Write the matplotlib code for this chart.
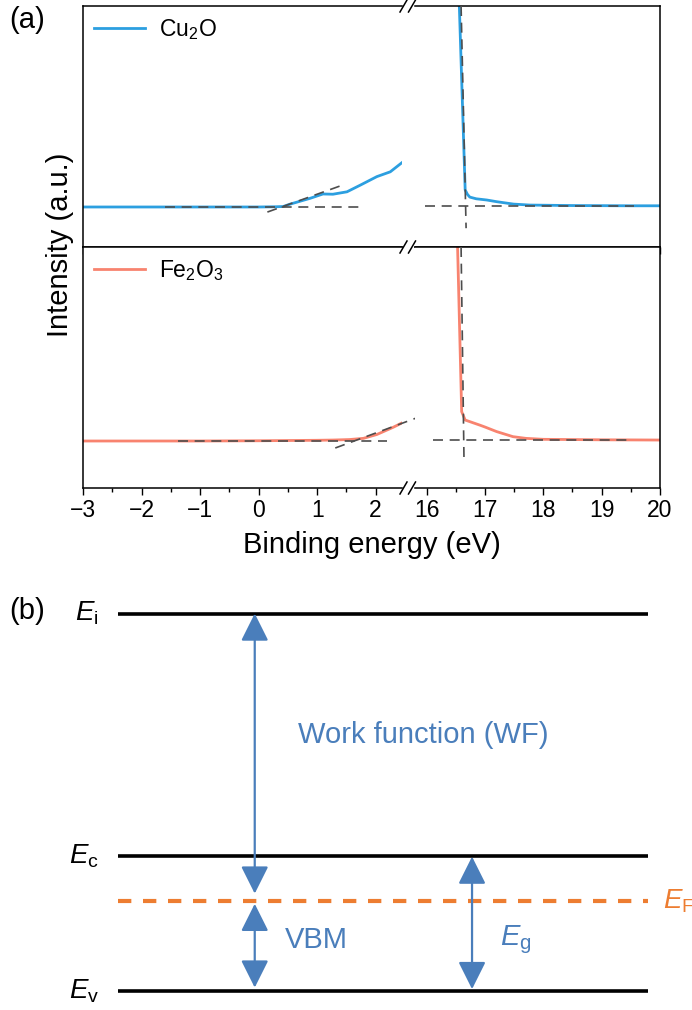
import numpy as np
import matplotlib.pyplot as plt
from matplotlib.lines import Line2D
from matplotlib.ticker import MultipleLocator

plt.rcParams['font.family'] = ['Liberation Sans', 'DejaVu Sans']
plt.rcParams['mathtext.fontset'] = 'custom'
plt.rcParams['mathtext.rm'] = 'Liberation Sans'
plt.rcParams['mathtext.it'] = 'Liberation Sans:italic'

# ---- panel (a) data: UPS spectra, left part (valence band) and right part (cutoff)
cu_lo_x = [-3, -2, -1, 0, 0.3, 0.42, 0.54, 0.88, 1.1, 1.27, 1.51, 1.74, 2.02, 2.25, 2.47]
cu_lo_y = [1.66, 1.66, 1.66, 1.66, 1.67, 1.68, 1.78, 2.02, 2.2, 2.19, 2.29, 2.57, 2.92, 3.12, 3.54]
cu_hi_x = [16.54, 16.56, 16.60, 16.64, 16.66, 16.70, 16.74, 16.85, 17.03, 17.2, 17.49, 17.77, 18.5, 19.5, 20]
cu_hi_y = [12.5, 10.0, 6.95, 3.9, 2.37, 2.18, 2.07, 2.0, 1.95, 1.88, 1.78, 1.74, 1.72, 1.71, 1.71]

fe_lo_x = [-3, -1, 0, 1.0, 1.27, 1.55, 1.79, 2.02, 2.30, 2.49]
fe_lo_y = [1.95, 1.95, 1.96, 1.98, 1.99, 2.01, 2.06, 2.22, 2.52, 2.75]
fe_hi_x = [16.52, 16.53, 16.57, 16.60, 16.66, 16.91, 17.0, 17.2, 17.48, 17.7, 18.0, 19.0, 20]
fe_hi_y = [12.5, 10.0, 6.1, 3.17, 2.82, 2.61, 2.53, 2.34, 2.13, 2.06, 2.02, 2.0, 1.99]

# fit lines (baseline / tangent) as segments: (x0, x1, y0, y1)
cu_lo_fits = [(-1.6, 1.8, 1.66, 1.66), (0.15, 1.39, 1.45, 2.53)]
cu_hi_fits = [(15.97, 19.55, 1.70, 1.70), (16.59, 16.676, 10.0, 0.78)]
fe_lo_fits = [(-1.38, 2.2, 1.95, 1.95), (1.31, 2.79, 1.66, 2.99)]
fe_hi_fits = [(16.1, 19.5, 1.99, 1.99), (16.59, 16.64, 10.0, 1.16)]

lo_lim = (-3, 2.45)
hi_lim = (15.8, 20)
lo_ticks = [-3, -2, -1, 0, 1, 2]
hi_ticks = [16, 17, 18, 19, 20]

cu_color = '#2C9FE0'
fe_color = '#F8836F'
fit_color = '#4D4D4D'

# ---- panel (b) data: energy levels
level_vals = [10.0, 3.58, 2.38, 0.0]
level_names = [r'$E_\mathrm{i}$', r'$E_\mathrm{c}$', r'$E_\mathrm{F}$', r'$E_\mathrm{v}$']
arrow_x = [0.258, 0.258, 0.668]
arrow_y0 = [10.0, 2.31, 3.56]
arrow_y1 = [2.58, 0.09, 0.05]
blue = '#4A7EBB'
orange = '#ED7D31'

W, H = 692, 1010
fig = plt.figure(figsize=(W / 100, H / 100), dpi=100)


def fx(px):
    return px / W


def fy(py):
    return 1 - py / H


rows = [(6, 247), (247, 488)]
xl0, xl1, xr0, xr1 = 83, 402, 415, 660
axes = []
for top, bot in rows:
    a_lo = fig.add_axes([fx(xl0), fy(bot), fx(xl1 - xl0), (bot - top) / H])
    a_hi = fig.add_axes([fx(xr0), fy(bot), fx(xr1 - xr0), (bot - top) / H])
    axes.append((a_lo, a_hi))

series = [
    (cu_lo_x, cu_lo_y, cu_hi_x, cu_hi_y, cu_lo_fits, cu_hi_fits, cu_color, r'Cu$_2$O'),
    (fe_lo_x, fe_lo_y, fe_hi_x, fe_hi_y, fe_lo_fits, fe_hi_fits, fe_color, r'Fe$_2$O$_3$'),
]

for i, ((a_lo, a_hi), s) in enumerate(zip(axes, series)):
    lx, ly, hx, hy, lf, hf, col, lab = s
    a_lo.plot(lx, ly, color=col, lw=2.0, label=lab, zorder=2)
    a_hi.plot(hx, hy, color=col, lw=2.0, zorder=2)
    for x0, x1, y0, y1 in lf:
        a_lo.plot([x0, x1], [y0, y1], color=fit_color, lw=1.2, ls=(0, (6, 4)),
                  zorder=3, clip_on=False)
    for x0, x1, y0, y1 in hf:
        a_hi.plot([x0, x1], [y0, y1], color=fit_color, lw=1.2, ls=(0, (6, 4)), zorder=3)
    a_lo.set_xlim(*lo_lim)
    a_hi.set_xlim(*hi_lim)
    for a in (a_lo, a_hi):
        a.set_ylim(0, 10)
        a.set_yticks([])
        a.xaxis.set_minor_locator(MultipleLocator(0.5))
        a.tick_params(axis='x', which='major', direction='out', length=5, width=1,
                      labelsize=16.5, pad=3)
        a.tick_params(axis='x', which='minor', direction='out', length=3, width=1)
        for sp in a.spines.values():
            sp.set_linewidth(1.1)
    a_lo.set_xticks(lo_ticks)
    a_hi.set_xticks(hi_ticks)
    a_lo.spines['right'].set_visible(False)
    a_hi.spines['left'].set_visible(False)
    if i == 0:
        a_lo.tick_params(labelbottom=False)
        a_hi.tick_params(labelbottom=False)
    a_lo.legend(loc='upper left', frameon=False, fontsize=16.5, handlelength=2.2,
                handletextpad=0.6, borderaxespad=0.2, borderpad=0.3)

# break marks
for yy in (6, 247, 488):
    for xc in (403.5, 412):
        fig.add_artist(Line2D([fx(xc - 3.5), fx(xc + 3.5)], [fy(yy + 6), fy(yy - 6)],
                              color='black', lw=1.1, transform=fig.transFigure))

fig.text(fx(371.5), fy(545), 'Binding energy (eV)', ha='center', va='center', fontsize=21)
fig.text(fx(60), fy(245), 'Intensity (a.u.)', ha='center', va='center', rotation=90,
         fontsize=21)
fig.text(fx(9), fy(20), '(a)', ha='left', va='center', fontsize=21)
fig.text(fx(9), fy(611), '(b)', ha='left', va='center', fontsize=21)

# ---- panel (b)
ev_px, ei_px = 991, 613.5
axb = fig.add_axes([fx(118), fy(ev_px), fx(648 - 118), (ev_px - ei_px) / H])
axb.set_xlim(0, 1)
axb.set_ylim(0, 10)
axb.axis('off')
for v, name in zip(level_vals, level_names):
    if 'F' in name:
        axb.plot([0, 1], [v, v], color=orange, lw=3, ls=(0, (3.2, 2.8)), clip_on=False)
        axb.text(1.028, v, name, color=orange, ha='left', va='center', fontsize=20,
                 clip_on=False)
    else:
        axb.plot([0, 1], [v, v], color='black', lw=2.6, clip_on=False,
                 solid_capstyle='butt')
        axb.text(-0.036, v, name, color='black', ha='right', va='center', fontsize=20)

for x, y0, y1 in zip(arrow_x, arrow_y0, arrow_y1):
    axb.annotate('', xy=(x, y1), xytext=(x, y0),
                 arrowprops=dict(arrowstyle='<|-|>,head_length=17,head_width=8.5',
                                 mutation_scale=1, color=blue, lw=1.6,
                                 shrinkA=0, shrinkB=0))

axb.text(0.575, 6.78, 'Work function (WF)', color=blue, ha='center', va='center',
         fontsize=21)
axb.text(0.315, 1.35, 'VBM', color=blue, ha='left', va='center', fontsize=21)
axb.text(0.72, 1.35, r'$E_\mathrm{g}$', color=blue, ha='left', va='center', fontsize=21)

fig.savefig('out.png', dpi=100)
